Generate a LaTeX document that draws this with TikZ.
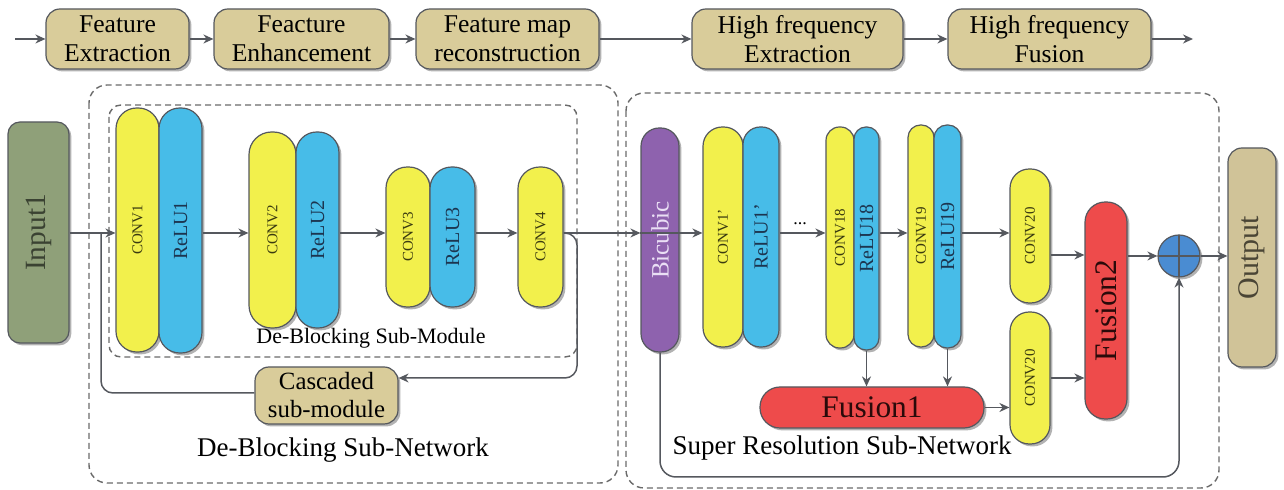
\documentclass[tikz,border=0pt]{standalone}
\usepackage{fontspec}
\setmainfont{Liberation Serif}
\usepackage{graphicx}
\usetikzlibrary{arrows.meta,shadows}
\definecolor{edgec}{HTML}{55585E}
\definecolor{tanc}{HTML}{D9CC9A}
\definecolor{pyel}{HTML}{F2F04C}
\definecolor{pblu}{HTML}{47BCE8}
\definecolor{pred}{HTML}{EE4B4B}
\definecolor{ppur}{HTML}{8E62AE}
\definecolor{polv}{HTML}{8FA079}
\definecolor{pout}{HTML}{D0C398}
\definecolor{pcir}{HTML}{4A8CD2}
\definecolor{dashcol}{HTML}{6A6A6A}
\definecolor{convtxt}{HTML}{3A3A10}
\definecolor{relutxt}{HTML}{1C3550}
\newcommand\cvf{\fontsize{7.5pt}{8pt}\selectfont\color{convtxt}}
\newcommand\rlf{\fontsize{10pt}{11pt}\selectfont\color{relutxt}}
\tikzset{
  sh/.style={drop shadow={shadow xshift=1.2pt,shadow yshift=-1.2pt,opacity=0.3,fill=black}},
  blk/.style={draw=edgec,line width=0.6pt,inner sep=0pt,sh},
  topbox/.style={blk,fill=tanc,rounded corners=7pt,minimum height=30pt,align=center,
    font=\fontsize{12.8pt}{14.5pt}\selectfont},
  pill/.style n args={3}{blk,fill=#3,minimum width={#1*0.5pt},minimum height={#2*0.5pt},
    rounded corners={#1*0.24pt}},
  arr/.style={draw=edgec,line width=0.75pt,-{Stealth[length=5pt,width=4.5pt]}},
  ln/.style={draw=edgec,line width=0.75pt},
  dbox/.style={draw=dashcol,line width=0.7pt,dash pattern=on 3pt off 2pt,rounded corners=9pt},
  lab/.style={inner sep=0pt}
}
\begin{document}
\begin{tikzpicture}[x=0.5pt,y=-0.5pt]
\useasboundingbox (0,0) rectangle (1284,490);

% dashed groups
\draw[dbox] (89,85) rectangle (618,483);
\draw[dbox,rounded corners=6pt] (109,105) rectangle (577,357);
\draw[dbox] (626,93) rectangle (1219,488);

% level coordinates
\coordinate (L1) at (0,233);
\coordinate (L2) at (0,255);
\coordinate (L3) at (0,378);
\coordinate (t0) at (15,39);
\coordinate (t9) at (1193,39);
\coordinate (fbR) at (577,378);
\coordinate (fbL) at (101,393);
\coordinate (bb) at (662,477);

% top row
\node[topbox,minimum width=71.5pt] (fe) at (117.5,39) {Feature\\Extraction};
\node[topbox,minimum width=87.5pt] (fen) at (301.5,39) {Feacture\\Enhancement};
\node[topbox,minimum width=91.5pt] (fmr) at (507.5,39) {Feature map\\reconstruction};
\node[topbox,minimum width=105.5pt] (hfe) at (797.5,39) {High frequency\\Extraction};
\node[topbox,minimum width=101.5pt] (hff) at (1049.5,39) {High frequency\\Fusion};

% de-blocking
\node[pill={61}{221}{polv},rounded corners=6pt] (in1) at (38.5,232.5)
  {\rotatebox{90}{\fontsize{14.7pt}{16pt}\selectfont\color[HTML]{3A4232}Input1}};
\node[pill={43}{244}{pyel}] (c1) at (137.5,230) {\rotatebox{90}{\cvf CONV1}};
\node[pill={43}{245}{pblu}] (r1) at (180.5,230.5) {\rotatebox{90}{\rlf ReLU1}};
\node[pill={47}{196}{pyel}] (c2) at (272.5,230) {\rotatebox{90}{\cvf CONV2}};
\node[pill={43}{196}{pblu}] (r2) at (317.5,230) {\rotatebox{90}{\rlf ReLU2}};
\node[pill={44}{140}{pyel}] (c3) at (408,237) {\rotatebox{90}{\cvf CONV3}};
\node[pill={45}{140}{pblu}] (r3) at (452.5,237) {\rotatebox{90}{\rlf ReLU3}};
\node[pill={45}{140}{pyel}] (c4) at (540.5,237) {\rotatebox{90}{\cvf CONV4}};
\node[blk,fill=tanc,rounded corners=7pt,minimum width=71.5pt,minimum height=28.5pt,align=center,
  font=\fontsize{12.4pt}{14pt}\selectfont] (casc) at (326.5,395.5) {Cascaded\\sub-module};
\node[lab,font=\fontsize{11pt}{12pt}\selectfont] (dbsm) at (371,338) {De-Blocking Sub-Module};
\node[lab,font=\fontsize{13.5pt}{15pt}\selectfont] (dbsn) at (343,450) {De-Blocking Sub-Network};

% super resolution
\node[pill={38}{224}{ppur}] (bic) at (660,240)
  {\rotatebox{90}{\fontsize{12.5pt}{14pt}\selectfont\color[HTML]{EADFF5}Bicubic}};
\node[pill={40}{220}{pyel}] (c1p) at (723,237) {\rotatebox{90}{\cvf CONV1'}};
\node[pill={36}{220}{pblu}] (r1p) at (761,237) {\rotatebox{90}{\rlf ReLU1'}};
\node[pill={28}{221}{pyel}] (c18) at (840,237.5) {\rotatebox{90}{\cvf CONV18}};
\node[pill={25}{223}{pblu}] (r18) at (866.5,238.5) {\rotatebox{90}{\rlf ReLU18}};
\node[pill={26}{222}{pyel}] (c19) at (921,236) {\rotatebox{90}{\cvf CONV19}};
\node[pill={27}{223}{pblu}] (r19) at (947.5,236.5) {\rotatebox{90}{\rlf ReLU19}};
\node[pill={40}{134}{pyel}] (c20a) at (1030,236) {\rotatebox{90}{\cvf CONV20}};
\node[pill={40}{132}{pyel}] (c20b) at (1030,378) {\rotatebox{90}{\cvf CONV20}};
\node[pill={42}{217}{pred}] (fu2) at (1106,310.5)
  {\rotatebox{90}{\fontsize{15.7pt}{17pt}\selectfont\color[HTML]{2A0A0A}Fusion2}};
\node[blk,fill=pred,minimum width=112pt,minimum height=20.5pt,rounded corners=10pt] (fu1) at (872,407.5)
  {\fontsize{15.7pt}{17pt}\selectfont\color[HTML]{2A0A0A}Fusion1};
\node[blk,circle,fill=pcir,minimum size=21pt,
  path picture={\draw[edgec,line width=0.6pt]
    (path picture bounding box.north) -- (path picture bounding box.south)
    (path picture bounding box.west) -- (path picture bounding box.east);}] (cir) at (1179,256) {};
\node[pill={48}{219}{pout},rounded corners=7pt] (out) at (1252,257.5)
  {\rotatebox{90}{\fontsize{15pt}{16pt}\selectfont\color[HTML]{4A4535}Output}};
\node[lab,font=\fontsize{9pt}{9pt}\selectfont] (dots) at (800,224) {...};
\node[lab,font=\fontsize{13.5pt}{15pt}\selectfont] (srsn) at (842,448) {Super Resolution Sub-Network};

% top row connectors
\draw[arr] (t0) -- (fe.west);
\draw[arr] (fe.east) -- (fen.west);
\draw[arr] (fen.east) -- (fmr.west);
\draw[arr] (fmr.east) -- (hfe.west);
\draw[arr] (hfe.east) -- (hff.west);
\draw[arr] (hff.east) -- (t9);

% de-blocking connectors
\draw[arr] (in1.east |- L1) -- (c1.west |- L1);
\draw[arr] (r1.east |- L1) -- (c2.west |- L1);
\draw[arr] (r2.east |- L1) -- (c3.west |- L1);
\draw[arr] (r3.east |- L1) -- (c4.west |- L1);
\draw[arr] (c4.east |- L1) -- (bic.west |- L1);
\draw[arr,rounded corners=6pt] (c4.east |- L1) -| (fbR) -- (casc.east |- fbR);
\draw[ln,rounded corners=6pt] (casc.west |- fbL) -- (fbL) -- (fbL |- L1);

% super resolution connectors
\draw[arr] (bic.west |- L1) -- (c1p.west |- L1);
\draw[arr] (r1p.east |- L1) -- (c18.west |- L1);
\draw[arr] (r18.east |- L1) -- (c19.west |- L1);
\draw[arr] (r19.east |- L1) -- (c20a.west |- L1);
\draw[arr] (c20a.east |- L2) -- (fu2.west |- L2);
\draw[arr] (c20b.east |- L3) -- (fu2.west |- L3);
\draw[arr] (fu1.east) -- (c20b.west |- fu1.east);
\draw[arr] (r18.south) -- (r18.south |- fu1.north);
\draw[arr] (r19.south) -- (r19.south |- fu1.north);
\draw[arr] (fu2.east |- cir) -- (cir.west);
\draw[arr] (cir.east) -- (out.west |- cir);
\draw[arr,rounded corners=8pt] (bic.south) -- (bic.south |- bb) -| (cir.south);
\end{tikzpicture}
\end{document}
